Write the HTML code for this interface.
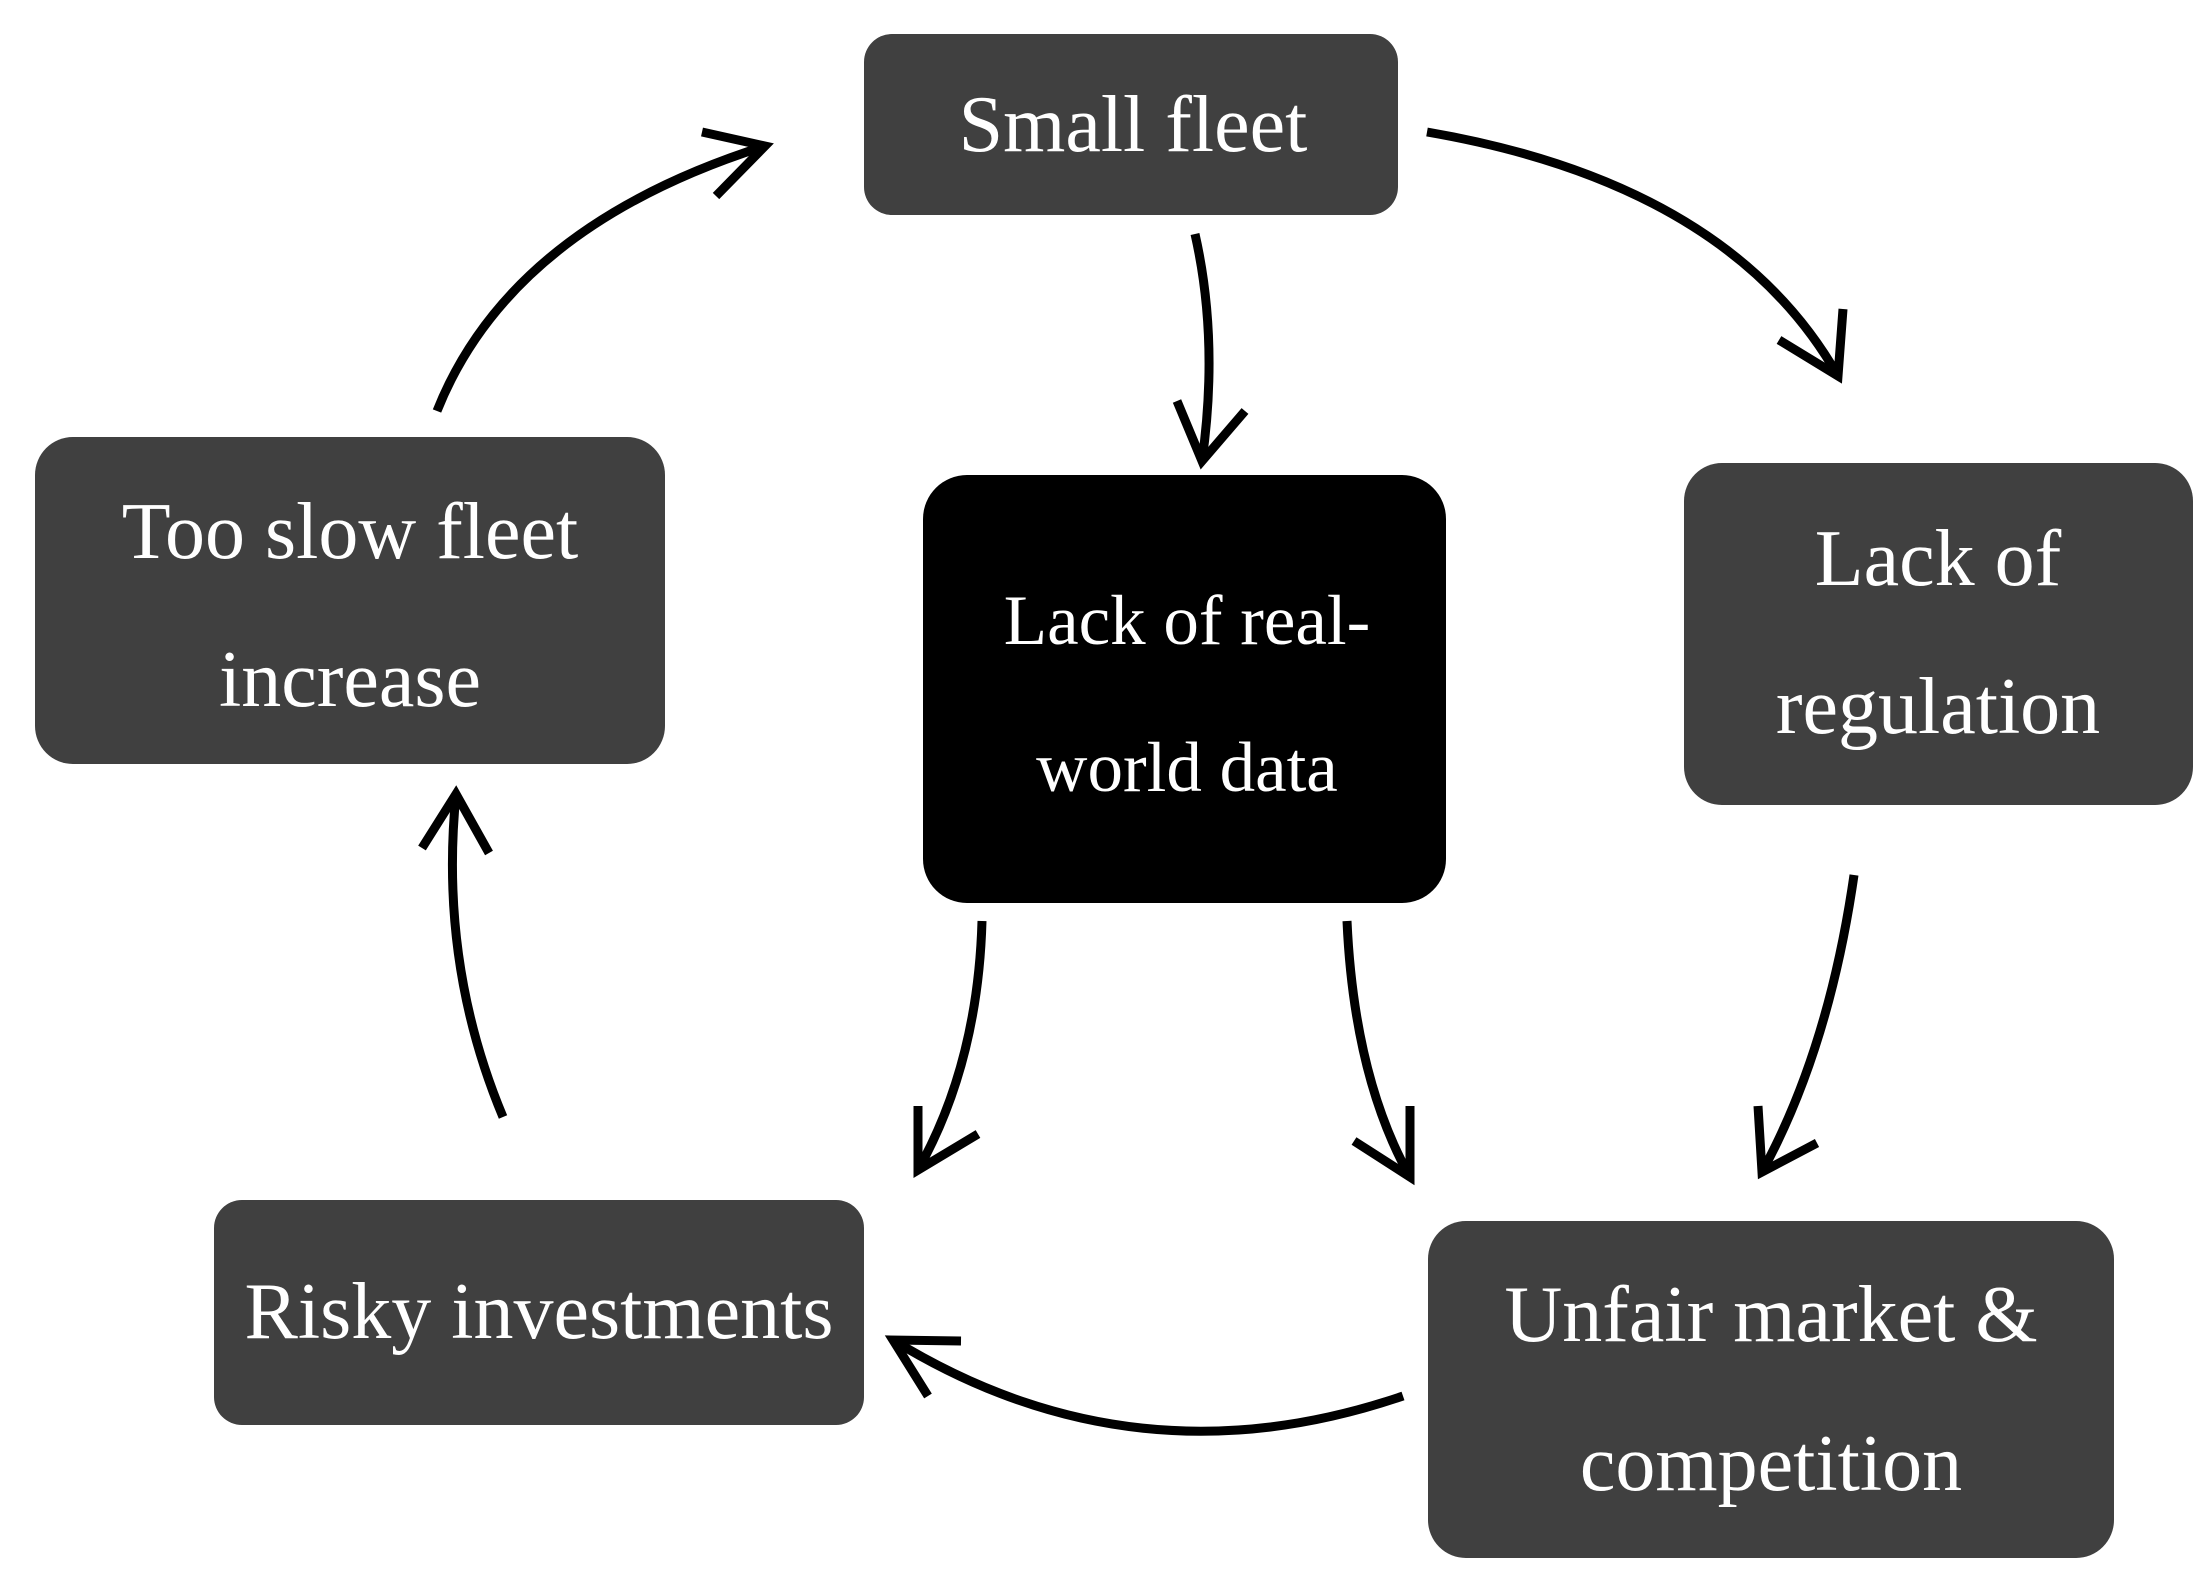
<!DOCTYPE html>
<html><head><meta charset="utf-8"><style>
html,body{margin:0;padding:0;background:#fff;}
.c{position:relative;width:2211px;height:1574px;overflow:hidden;background:#fff;}
.b{position:absolute;background:#404040;border-radius:38px;}
.t{position:absolute;color:#fff;font-family:"Liberation Serif",serif;font-size:80px;white-space:nowrap;transform:translateX(-50%);line-height:1;}
svg{position:absolute;left:0;top:0;}
</style></head><body><div class="c">
<div class="b" style="left:864px;top:34px;width:534px;height:181px;border-radius:28px"></div>
<div class="b" style="left:35px;top:437px;width:630px;height:327px"></div>
<div class="b" style="left:923px;top:475px;width:523px;height:428px;background:#000;border-radius:44px"></div>
<div class="b" style="left:1684px;top:463px;width:509px;height:342px"></div>
<div class="b" style="left:214px;top:1200px;width:650px;height:225px;border-radius:28px"></div>
<div class="b" style="left:1428px;top:1221px;width:686px;height:337px"></div>

<div class="t" style="left:1133px;top:85px">Small fleet</div>
<div class="t" style="left:350px;top:492px">Too slow fleet</div>
<div class="t" style="left:350px;top:640px">increase</div>
<div class="t" style="left:1187px;top:586px;font-size:71px">Lack of real-</div>
<div class="t" style="left:1187px;top:733px;font-size:71px">world data</div>
<div class="t" style="left:1938px;top:519px">Lack of</div>
<div class="t" style="left:1938px;top:667px">regulation</div>
<div class="t" style="left:539px;top:1272px">Risky investments</div>
<div class="t" style="left:1771px;top:1275px">Unfair market &amp;</div>
<div class="t" style="left:1771px;top:1424px">competition</div>

<svg width="2211" height="1574" fill="none" stroke="#000" stroke-width="9" stroke-linecap="butt" stroke-linejoin="miter">
<path d="M437 411 Q510 227 765 146"/><path d="M702 132 L765 146 L716 196"/>
<path d="M1195 234 Q1219 340 1202 461"/><path d="M1177 401 L1202 461 L1245 411"/>
<path d="M1427 132 Q1729 184 1838 376"/><path d="M1779 340 L1838 376 L1843 309"/>
<path d="M1854 875 Q1829 1049 1762 1172"/><path d="M1758 1106 L1762 1172 L1817 1143"/>
<path d="M1403 1396 Q1134 1488 893 1340"/><path d="M961 1341 L893 1340 L928 1396"/>
<path d="M503 1117 Q439 964 456 794"/><path d="M422 848 L456 794 L489 853"/>
<path d="M982 921 Q978 1063 918 1170"/><path d="M918 1106 L918 1170 L978 1134"/>
<path d="M1347 921 Q1354 1077 1410 1177"/><path d="M1354 1141 L1410 1177 L1410 1106"/>
</svg>
</div></body></html>
